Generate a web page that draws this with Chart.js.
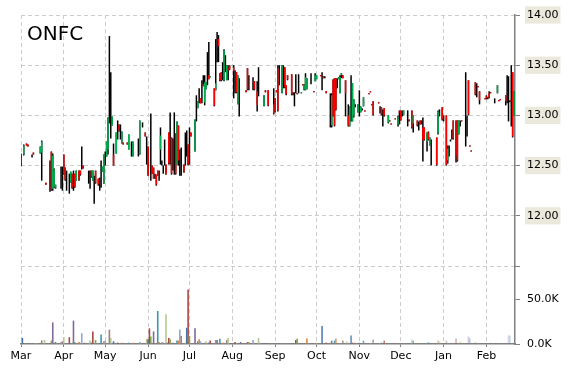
<!DOCTYPE html>
<html><head><meta charset="utf-8">
<script src="https://cdn.jsdelivr.net/npm/chart.js@4"></script>
<style>
html,body{margin:0;padding:0;background:#fff;}
#wrap{position:relative;width:570px;height:370px;}
#title{position:absolute;left:27px;top:23px;font:20px/20px "DejaVu Sans",sans-serif;color:#000;}
</style>
</head><body>
<div id="wrap"><canvas id="c" width="570" height="370"></canvas><div id="title">ONFC</div></div>
<script>
// x positions are calendar days counted from 1 March
const months = ['Mar','Apr','May','Jun','Jul','Aug','Sep','Oct','Nov','Dec','Jan','Feb'];
const monthStart = [0,31,61,92,122,153,184,214,245,275,306,337];
const priceTicks = [11.5,12,12.5,13,13.5,14];
const volTicks = [0,50];

const days = [0,2,4,5,8,9,14,15,18,21,22,23,24,25,29,30,31,32,33,35,36,37,38,39,40,42,43,44,45,49,50,51,52,53,54,56,57,58,59,60,61,62,63,64,65,66,67,69,70,71,72,73,74,77,78,80,81,85,86,88,90,91,92,94,95,96,97,98,99,100,101,102,103,104,105,107,108,109,110,111,112,113,114,115,116,118,119,120,121,122,123,126,127,128,129,130,131,132,133,134,135,136,137,140,141,142,143,144,145,146,147,148,149,150,151,154,155,156,157,158,163,164,165,168,169,171,172,176,177,179,183,184,185,186,187,189,190,191,192,193,196,197,198,199,200,201,203,204,205,206,207,210,212,213,214,217,218,219,220,221,224,225,226,227,228,229,230,231,232,233,235,237,238,239,240,241,242,244,245,246,247,248,249,252,253,254,255,259,260,261,262,263,266,267,268,271,273,274,275,276,277,280,281,283,284,287,288,289,290,291,292,294,295,296,297,301,302,303,305,306,308,309,310,311,312,313,315,316,317,318,319,322,323,324,325,326,329,330,331,332,336,337,338,339,340,343,345,346,347,351,352,353,354,355,356,357];
const open = [12.55,12.61,12.72,12.71,12.60,12.63,12.62,12.63,12.33,12.40,12.64,12.27,12.29,12.28,12.40,12.35,12.61,12.48,12.35,12.30,12.33,12.42,12.35,12.42,12.35,12.45,12.45,12.55,12.50,12.38,12.35,12.45,12.35,12.25,12.45,12.37,12.30,12.40,12.44,12.32,12.57,12.59,12.66,13.00,13.00,12.90,12.61,12.62,12.85,12.91,12.83,12.72,12.73,12.73,12.66,12.66,12.59,12.68,12.61,12.90,12.83,12.65,12.69,12.70,12.50,12.48,12.40,12.41,12.45,12.40,12.66,12.53,12.45,12.60,12.51,12.83,12.70,12.78,12.55,12.70,12.82,12.51,12.90,12.55,12.55,12.51,12.65,12.70,12.71,12.70,12.83,12.64,13.05,13.07,13.20,13.17,13.25,13.31,13.13,13.26,13.45,13.40,13.38,13.27,13.25,13.65,13.76,13.42,13.43,13.45,13.35,13.55,13.35,13.47,13.50,13.48,13.35,13.43,13.11,13.20,13.25,13.47,13.35,13.30,13.34,13.24,13.30,13.09,13.25,13.25,13.11,13.17,13.25,13.47,13.40,13.22,13.30,13.48,13.30,13.40,13.41,13.22,13.15,13.30,13.22,13.30,13.22,13.31,13.26,13.25,13.26,13.35,13.24,13.34,13.36,13.40,13.35,13.39,13.38,13.24,13.05,12.90,13.35,13.37,13.37,13.30,13.36,13.22,13.40,13.40,13.35,13.00,12.89,13.05,12.94,13.00,13.10,13.03,13.10,13.03,13.06,13.09,13.05,13.22,13.24,13.11,13.14,13.13,13.08,13.08,12.98,13.07,12.93,12.95,12.92,12.97,12.91,13.04,13.05,13.00,13.00,12.97,12.96,13.05,12.92,12.95,12.90,12.95,12.93,12.88,12.88,12.74,12.83,12.70,12.65,12.78,12.82,13.00,13.08,12.97,13.00,12.55,12.65,12.75,12.80,12.95,12.95,12.95,12.81,12.92,12.95,13.00,12.90,13.35,12.70,12.65,13.33,13.25,13.29,13.24,13.17,13.19,13.18,13.22,13.23,13.17,13.22,13.15,13.16,13.20,13.25,13.15,13.15,13.20,13.43,13.00];
const high = [12.62,12.71,12.72,12.71,12.61,12.63,12.69,12.75,12.33,12.55,12.64,12.62,12.47,12.31,12.49,12.49,12.61,12.48,12.45,12.42,12.44,12.42,12.45,12.42,12.45,12.45,12.45,12.69,12.50,12.45,12.45,12.45,12.45,12.40,12.45,12.37,12.38,12.55,12.49,12.61,12.64,12.74,12.98,13.79,13.43,12.99,12.72,12.83,12.95,12.91,12.91,12.84,12.73,12.73,12.81,12.74,12.74,12.77,12.95,12.93,12.83,12.79,12.69,13.02,12.50,12.48,12.42,12.41,12.45,12.45,12.88,12.55,12.50,12.76,12.51,12.83,13.03,12.78,12.77,13.03,12.82,12.94,12.90,12.66,12.68,12.51,12.83,12.85,12.71,12.88,12.83,12.96,13.20,13.14,13.27,13.17,13.35,13.40,13.40,13.33,13.63,13.73,13.39,13.27,13.76,13.83,13.80,13.42,13.43,13.53,13.66,13.60,13.50,13.50,13.50,13.50,13.45,13.43,13.40,13.37,13.25,13.47,13.40,13.38,13.34,13.34,13.48,13.20,13.25,13.25,13.27,13.17,13.25,13.50,13.50,13.50,13.50,13.48,13.30,13.40,13.41,13.23,13.23,13.41,13.22,13.41,13.23,13.31,13.31,13.42,13.37,13.42,13.24,13.42,13.40,13.40,13.43,13.39,13.39,13.24,13.22,13.22,13.36,13.37,13.37,13.37,13.38,13.40,13.42,13.40,13.35,13.11,13.09,13.40,13.32,13.16,13.11,13.11,13.25,13.09,13.07,13.18,13.05,13.22,13.24,13.11,13.14,13.13,13.09,13.08,13.06,13.07,13.00,12.95,12.92,12.97,13.00,13.05,13.05,13.05,13.05,13.05,12.96,13.05,13.00,12.95,12.94,12.95,12.95,12.98,12.88,12.83,12.84,12.78,12.76,12.78,13.05,13.06,13.08,13.00,13.00,12.70,12.70,12.76,12.86,12.95,12.95,12.95,12.95,12.95,12.95,13.43,13.00,13.35,12.70,12.65,13.33,13.32,13.29,13.24,13.17,13.20,13.18,13.24,13.23,13.17,13.30,13.15,13.16,13.20,13.40,13.39,13.15,13.50,13.43,13.24];
const low = [12.49,12.60,12.70,12.69,12.58,12.61,12.62,12.35,12.31,12.24,12.25,12.25,12.28,12.27,12.27,12.25,12.41,12.35,12.25,12.22,12.33,12.27,12.25,12.28,12.35,12.35,12.40,12.46,12.47,12.32,12.27,12.38,12.35,12.12,12.32,12.30,12.25,12.28,12.44,12.32,12.50,12.59,12.61,12.92,12.77,12.90,12.50,12.62,12.76,12.84,12.76,12.72,12.71,12.71,12.66,12.59,12.59,12.59,12.61,12.88,12.79,12.51,12.40,12.35,12.42,12.37,12.37,12.30,12.40,12.35,12.51,12.50,12.42,12.50,12.41,12.51,12.51,12.41,12.45,12.41,12.41,12.51,12.50,12.40,12.40,12.43,12.50,12.59,12.50,12.51,12.79,12.64,12.94,13.07,13.12,13.12,13.12,13.29,13.10,13.26,13.30,13.36,13.38,13.09,13.25,13.53,13.53,13.34,13.34,13.35,13.34,13.43,13.35,13.35,13.45,13.17,13.22,13.22,13.11,12.99,13.23,13.25,13.25,13.25,13.25,13.04,13.19,13.09,13.23,13.09,13.01,13.03,13.23,13.04,13.30,13.22,13.27,13.27,13.20,13.35,13.20,13.20,13.09,13.22,13.21,13.22,13.22,13.30,13.25,13.25,13.26,13.31,13.23,13.34,13.36,13.39,13.25,13.37,13.37,13.22,12.88,12.88,12.99,12.89,13.05,13.27,13.36,13.22,13.37,13.37,12.99,12.89,12.89,12.94,12.94,12.98,13.08,13.03,12.99,13.03,13.05,13.09,13.04,13.21,13.23,13.10,13.00,13.12,13.02,13.00,12.89,12.99,12.92,12.94,12.91,12.96,12.89,12.91,12.95,12.99,13.00,12.89,12.94,12.87,12.83,12.89,12.85,12.91,12.91,12.54,12.75,12.64,12.75,12.70,12.50,12.50,12.81,12.99,12.95,12.94,12.50,12.52,12.59,12.74,12.76,12.76,12.53,12.54,12.81,12.89,12.94,12.69,12.79,13.00,12.69,12.64,13.20,13.18,13.28,13.11,13.16,13.16,13.16,13.17,13.22,13.12,13.22,13.14,13.15,13.10,13.12,12.94,13.13,12.89,12.78,13.00];
const close = [12.55,12.70,12.70,12.69,12.60,12.61,12.69,12.74,12.31,12.40,12.26,12.60,12.46,12.31,12.40,12.35,12.42,12.36,12.35,12.30,12.44,12.28,12.35,12.29,12.45,12.36,12.41,12.55,12.47,12.38,12.35,12.39,12.45,12.25,12.33,12.31,12.30,12.40,12.49,12.61,12.57,12.74,12.98,13.00,13.00,12.99,12.50,12.83,12.85,12.85,12.83,12.84,12.71,12.71,12.81,12.66,12.74,12.68,12.95,12.90,12.79,12.65,12.40,12.70,12.42,12.37,12.40,12.31,12.40,12.40,12.80,12.53,12.45,12.60,12.42,12.52,12.70,12.42,12.55,12.70,12.42,12.94,12.55,12.55,12.55,12.44,12.65,12.70,12.51,12.70,12.79,12.96,13.05,13.14,13.20,13.12,13.25,13.29,13.33,13.33,13.45,13.36,13.39,13.10,13.32,13.65,13.69,13.35,13.35,13.45,13.65,13.55,13.50,13.45,13.46,13.44,13.35,13.23,13.40,13.20,13.23,13.26,13.35,13.30,13.26,13.10,13.30,13.20,13.23,13.10,13.02,13.04,13.23,13.05,13.40,13.50,13.30,13.28,13.21,13.36,13.21,13.22,13.15,13.30,13.21,13.30,13.23,13.30,13.30,13.38,13.37,13.35,13.23,13.40,13.40,13.39,13.35,13.37,13.38,13.22,13.05,13.20,13.00,12.90,13.06,13.30,13.38,13.38,13.42,13.37,13.22,12.90,13.09,13.05,13.32,13.16,13.10,13.11,13.10,13.09,13.06,13.18,13.04,13.21,13.23,13.10,13.01,13.12,13.08,13.01,12.98,13.00,13.00,12.94,12.91,12.96,12.99,13.03,12.95,13.00,13.05,12.97,12.95,12.88,13.00,12.90,12.90,12.91,12.93,12.75,12.76,12.83,12.76,12.78,12.65,12.51,13.04,13.00,12.96,12.97,12.51,12.67,12.65,12.75,12.80,12.77,12.60,12.55,12.95,12.92,12.94,13.00,12.90,13.01,12.69,12.64,13.21,13.25,13.28,13.15,13.16,13.17,13.17,13.18,13.22,13.17,13.30,13.14,13.15,13.14,13.25,13.15,13.14,13.20,12.79,13.24];

const volDays = [1,2,3,5,9,10,11,15,17,18,21,22,23,25,26,29,30,31,33,35,37,38,39,42,44,46,50,51,52,54,57,58,60,61,64,65,67,70,73,74,78,81,86,87,91,92,93,94,96,99,100,102,103,105,106,107,108,110,113,114,115,116,119,120,121,122,126,128,129,130,133,134,136,137,141,142,144,146,147,149,150,152,155,156,159,164,165,168,170,172,176,178,179,180,183,185,189,191,193,197,199,200,203,205,207,209,212,214,218,221,224,225,227,228,231,233,236,239,240,242,245,248,249,253,255,260,261,263,267,269,273,274,277,281,283,284,288,290,293,295,302,303,308,310,312,315,318,324,325,329,331,333,338,340,343,346,353,354,357];
const volK = [6.8,1,1,1,1,1,1,4,4.5,1,1,3.8,24,2.3,1,2.3,3,7.5,1,7.5,1.5,26,1.9,2.3,12,1.5,3.8,1.5,14,4.5,1,10.6,3,3.8,16,6.8,3,1.5,1.5,1,1.5,1.5,2.3,1,6,5.3,17.4,8.3,14,36.7,2.3,2.3,1.5,33,1.5,6.8,5.3,1.5,3.8,3.8,16,9,1.5,18,60.6,9,17.4,3,5.3,3,1.5,3,1.5,3.8,4.5,4.5,5.7,1.5,1.5,4.5,6.8,1,2.3,1,2.3,2.3,2.3,4.5,1,6.8,1,1,0.8,0.8,1.1,0.4,0.4,0.4,0.4,0.4,4.5,6,0.8,0.8,6,0.8,1.1,1.5,20,1.5,1.5,3.8,3.8,6,1.1,3.8,2.7,9.5,1.5,1.5,1.5,3.8,0.8,1.1,4.9,1.1,1.5,3.8,0.8,0.8,0.8,1.1,0.8,0.8,4.9,3.8,0.8,1.1,0.8,2.3,3.8,2.7,3.8,0.8,0.8,6,2.3,8.3,6,2.3,0.8,1.1,0.8,1.5,1.1,0.8,9.8,9.1,2.3];

const GREEN = '#00B050', RED = '#FF0000';
const PALETTE = ['#4572A7','#AA4643','#89A54E','#80699B','#3D96AE','#DB843D','#92A8CD','#A47D7C','#B5CA92'];
function volColor(i, d){
  const h = PALETTE[i % PALETTE.length];
  const r = parseInt(h.slice(1,3),16), g = parseInt(h.slice(3,5),16), b = parseInt(h.slice(5,7),16);
  const a = d < 200 ? 1 : Math.max(0.3, 1 - (d - 200) / 200);
  return `rgba(${r},${g},${b},${a})`;
}
const FONT = {family:'"DejaVu Sans", sans-serif', size:11};
const AXIS = '#808080', GRID = '#cccccc';

new Chart(document.getElementById('c'), {
  type: 'bar',
  data: {
    datasets: [
      {
        label: 'body',
        data: days.map((d,i)=>({x:d, y:[open[i], close[i]]})),
        backgroundColor: days.map((d,i)=> close[i] > open[i] ? GREEN : (close[i] < open[i] ? RED : 'rgba(0,0,0,0)')),
        barThickness: 1.5, inflateAmount: 0, grouped: false, order: 0, yAxisID: 'y', xAxisID: 'x'
      },
      {
        label: 'range',
        data: days.map((d,i)=>({x:d, y:[low[i], high[i]]})),
        backgroundColor: '#000000',
        barThickness: 1.5, inflateAmount: 0, grouped: false, order: 1, yAxisID: 'y', xAxisID: 'x'
      },
      {
        label: 'volume',
        data: volDays.map((d,i)=>({x:d, y:volK[i]})),
        backgroundColor: volDays.map((d,i)=>volColor(i,d)),
        barThickness: 1.6, inflateAmount: 0, grouped: false, order: 2, yAxisID: 'v', xAxisID: 'x'
      }
    ]
  },
  options: {
    responsive: false,
    animation: false,
    layout: {padding: {left: 21, top: 15, right: 0, bottom: 0}},
    plugins: {legend: {display: false}, tooltip: {enabled: false}},
    scales: {
      y: {
        type: 'linear', position: 'right', stack: 'main', stackWeight: 251,
        min: 11.5, max: 14,
        afterBuildTicks: s => { s.ticks = priceTicks.map(v=>({value:v})); },
        afterFit: s => { s.width = 55; },
        ticks: {
          font: FONT, color: '#000', padding: 7,
          callback: v => v === 11.5 ? '' : v.toFixed(2),
          showLabelBackdrop: true,
          backdropColor: c => (c.tick && c.tick.value === 11.5) ? 'rgba(0,0,0,0)' : '#EBE9DC',
          backdropPadding: 2
        },
        grid: {color: GRID, tickLength: 5, tickColor: AXIS, tickWidth: 1},
        border: {color: AXIS, width: 1.5, dash: [4,3]}
      },
      v: {
        type: 'linear', position: 'right', stack: 'main', stackWeight: 78,
        min: 0, max: 86.7,
        afterBuildTicks: s => { s.ticks = volTicks.map(v=>({value:v})); },
        afterFit: s => { s.width = 55; },
        ticks: {font: FONT, color: '#000', padding: 7, callback: v => v.toFixed(1) + 'K'},
        grid: {drawOnChartArea: false, tickLength: 5, tickColor: AXIS, tickWidth: 1},
        border: {color: AXIS, width: 1.5}
      },
      x: {
        type: 'linear', position: 'bottom', min: 0, max: 357.7, offset: false,
        afterBuildTicks: s => { s.ticks = monthStart.map(v=>({value:v})); },
        afterFit: s => { s.height = 26; },
        ticks: {font: FONT, color: '#000', padding: 3, autoSkip: false, maxRotation: 0,
          callback: (v, i) => months[i]},
        grid: {color: GRID, offset: false, tickLength: 3, tickColor: AXIS},
        border: {color: AXIS, width: 1.5, dash: [4,3]}
      }
    }
  }
});
</script>
</body></html>
